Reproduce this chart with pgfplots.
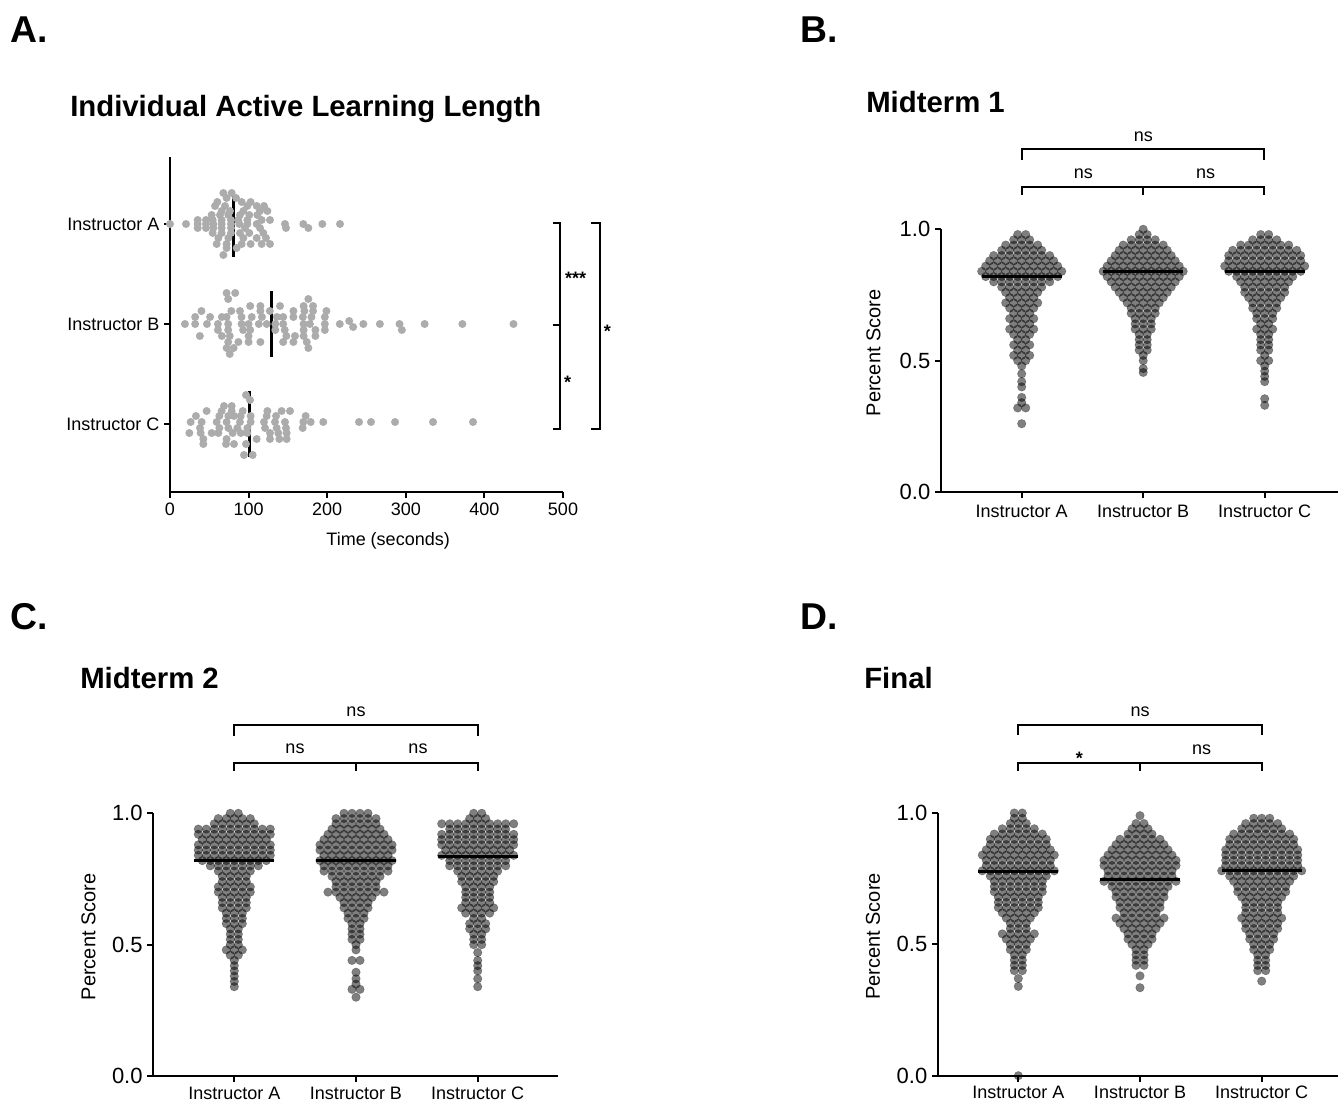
\documentclass[border=0pt]{standalone}
\usepackage{fontspec}
\setmainfont{Liberation Sans}
\usepackage{pgfplots}
\pgfplotsset{compat=1.18}

\definecolor{dotgray}{RGB}{172,172,172}
\newcommand\labf{\fontsize{13.5pt}{16pt}\selectfont}
\newcommand\ylabf{\fontsize{15pt}{18pt}\selectfont}
\newcommand\tickf{\fontsize{16.5pt}{19pt}\selectfont}
\newcommand\titlef{\bfseries\fontsize{22pt}{25pt}\selectfont}
\newcommand\letterf{\bfseries\fontsize{28pt}{30pt}\selectfont}

\pgfplotsset{
  panel/.style={scale only axis, axis lines=left,
    axis line style={-, line width=1.5pt},
    tick style={black, line width=1.5pt}, tick align=outside,
    major tick length=4.5pt, clip=false, ticklabel style={font=\labf},
    /pgf/number format/assume math mode=true},
  swarm/.style={only marks, mark=*, mark size=3.2pt, color=black,
    mark options={fill=black, fill opacity=0.5, draw=black, draw opacity=0.3, line width=0.4pt}},
  adot/.style={only marks, mark=*, mark size=3pt, color=dotgray,
    mark options={fill=dotgray, draw=dotgray, draw opacity=0}},
  meanline/.style={black, line width=2.25pt, no marks},
  vpanel/.style={panel, anchor=south west, width=#1, height=197.025pt,
    ymin=0, ymax=1, ytick={0,0.5,1}, yticklabels={0.0,0.5,1.0},
    yticklabel style={font=\tickf},
    xticklabels={Instructor A,Instructor B,Instructor C},
    ylabel={Percent Score}, ylabel style={font=\ylabf, anchor=center}},
}

\begin{document}
\begin{tikzpicture}
\path[use as bounding box] (0,0) rectangle (1003.5pt,-826.5pt);

% ---------------- A: active learning length ----------------
\begin{axis}[panel, at={(127.5pt,-369pt)}, anchor=south west,
  width=294.75pt, height=251.25pt,
  xmin=0, xmax=500, ymin=-68, ymax=267,
  xtick={0,100,...,500}, ytick={0,100,200},
  yticklabels={Instructor C,Instructor B,Instructor A},
  xlabel={Time (seconds)},
  xlabel style={font=\labf, at={(axis description cs:0.555,-0.146)}, anchor=center}]
% Instructor A (time, vertical offset px)
\addplot[adot, y filter/.expression={200-y}] coordinates {
(67.9,-31)(78.5,-31)(72,-26)(84,-26)
(60.2,-22)(91.2,-22)(102.6,-22)
(57.3,-18)(70,-18)(98.4,-18)(110.3,-18)(119.6,-18)
(65.7,-13)(76.3,-13)(93.3,-13)(114.5,-13)(123.9,-13)
(53,-9)(63.6,-9)(74.2,-9)(89,-9)(100.9,-9)(111.1,-9)
(35.2,-4)(45.8,-4)(54.3,-4)(65.7,-4)(77.6,-4)(86.9,-4)(98.4,-4)(116.6,-4)(127.2,-4)
(0,0)(20.4,0)(35.2,0)(45.8,0)(55.1,0)(65.7,0)(77.6,0)(88.2,0)(98.4,0)(110.3,0)(146.3,0)(169.6,0)(193.8,0)(216.3,0)
(35.2,4)(45.8,4)(55.1,4)(65.7,4)(77.6,4)(95.4,4)(114.5,4)(147.6,4)(176,4)
(54.3,9)(65.7,9)(77.6,9)(89,9)(100.9,9)(118.7,9)
(61.5,14)(74.2,14)(93.3,14)(110.3,14)(122.1,14)
(59.4,20)(72,20)(91.2,20)(102.6,20)(116.6,20)(127.2,20)
(72,24)(84.8,24)(67.9,31)
};
% Instructor B
\addplot[adot, y filter/.expression={100-y}] coordinates {
(72,-31)(83,-31)(74,-25)(176,-25)
(102,-18)(115,-18)(140,-18)(170,-18)(182,-18)
(40,-13)(78,-13)(89,-13)(115,-13)(127,-13)(157,-13)(171,-13)(182,-13)(199,-13)
(32,-7)(51,-7)(66,-7)(72,-7)(91,-7)(104,-7)(117,-7)(136,-7)(144,-7)(157,-7)(169,-7)(180,-7)(197,-7)
(19,0)(32,0)(47,0)(61,0)(74,0)(91,0)(100,0)(113,0)(123,0)(134,0)(144,0)(170,0)(178,0)(197,0)(216,0)(246,0)(267,0)(292,0)(324,0)(372,0)(437,0)
(228,-3)(233,3)(295,6)
(61,6)(74,6)(93,6)(102,6)(134,6)(146,6)(170,6)(185,6)(197,6)
(38,12)(66,12)(76,12)(100,12)(148,12)(159,12)(170,12)(185,12)
(74,18)(87,18)(100,18)(115,18)(144,18)(157,18)(174,18)
(72,24)(81,24)(176,24)(76,30)
};
% Instructor C
\addplot[adot, y filter/.expression={-y}] coordinates {
(96.7,-29)(101.8,-24)(68.7,-18)(78.5,-18)
(46.6,-13)(65.7,-13)(78.5,-13)(92.5,-13)(123.9,-13)(142,-13)(152.7,-13)
(33,-8)(62.8,-8)(74.2,-8)(81.4,-8)(90,-8)(102.6,-8)(123,-8)(134.9,-8)(172.6,-8)
(26.3,-2)(40.3,-2)(59.4,-2)(72,-2)(89,-2)(102.6,-2)(119.6,-2)(133.6,-2)(146.3,-2)(169.6,-2)(179,-2)(195,-2)(240.5,-2)(255.7,-2)(286.3,-2)(334.6,-2)(385.5,-2)
(38.2,4)(62.8,4)(74.2,4)(85.7,4)(98.4,4)(120.9,4)(135.7,4)(147.6,4)(168.8,4)
(24.6,9)(39,9)(53,9)(61.5,9)(79.7,9)(90,9)(98.4,9)(127.2,9)(137.8,9)(148.4,9)
(42.4,15)(72,15)(110.3,15)(127.2,15)(139.1,15)(148.4,15)
(42.4,20)(71.3,20)(81.4,20)(96.7,20)
(94.1,31)(105.2,31)
};
\addplot[meanline] coordinates {(81.4,167)(81.4,233)};
\addplot[meanline] coordinates {(129.3,67)(129.3,133)};
\addplot[meanline] coordinates {(101,-33)(101,33)};
\end{axis}

% ---------------- B: Midterm 1 ----------------
\begin{axis}[vpanel=297.75pt, at={(705.75pt,-369pt)},
  xmin=-80.7, xmax=316.3, xtick={0,121.5,243},
  xticklabel style={yshift=-2pt},
  ylabel style={at={(axis description cs:-0.17,0.53)}}]
\addplot[swarm] coordinates {
(-4,.98)(4,.98)
(-8,.96)(0,.96)(8,.96)
(-16,.94)(-8,.94)(0,.94)(8,.94)(16,.94)
(-20,.92)(-12,.92)(-4,.92)(4,.92)(12,.92)(20,.92)
(-28,.90)(-20,.90)(-12,.90)(-4,.90)(4,.90)(12,.90)(20,.90)(28,.90)
(-32,.88)(-24,.88)(-16,.88)(-8,.88)(0,.88)(8,.88)(16,.88)(24,.88)(32,.88)
(-36,.86)(-28,.86)(-20,.86)(-12,.86)(-4,.86)(4,.86)(12,.86)(20,.86)(28,.86)(36,.86)
(-40,.84)(-32,.84)(-24,.84)(-16,.84)(-8,.84)(0,.84)(8,.84)(16,.84)(24,.84)(32,.84)(40,.84)
(-36,.82)(-28,.82)(-20,.82)(-12,.82)(-4,.82)(4,.82)(12,.82)(20,.82)(28,.82)(36,.82)
(-28,.80)(-20,.80)(-12,.80)(-4,.80)(4,.80)(12,.80)(20,.80)(28,.80)
(-20,.78)(-12,.78)(-4,.78)(4,.78)(12,.78)(20,.78)
(-16,.76)(-8,.76)(0,.76)(8,.76)(16,.76)
(-12,.74)(-4,.74)(4,.74)(12,.74)
(-16,.72)(-8,.72)(0,.72)(8,.72)(16,.72)
(-12,.70)(-4,.70)(4,.70)(12,.70)
(-8,.68)(0,.68)(8,.68)
(-12,.66)(-4,.66)(4,.66)(12,.66)
(-8,.64)(0,.64)(8,.64)
(-12,.62)(-4,.62)(4,.62)(12,.62)
(-8,.60)(0,.60)(8,.60)
(-4,.58)(4,.58)
(-8,.56)(0,.56)(8,.56)
(-4,.54)(4,.54)
(-8,.52)(0,.52)(8,.52)
(-4,.50)(4,.50)
(0,.48)(0,.45)(0,.42)(0,.40)(0,.36)(0,.34)(-4,.32)(4,.32)(0,.26)
};
\addplot[swarm, x filter/.expression={x+121.5}] coordinates {
(0,1.0)
(-4,.98)(4,.98)
(-12,.96)(-4,.96)(4,.96)(12,.96)
(-20,.94)(-12,.94)(-4,.94)(4,.94)(12,.94)(20,.94)
(-24,.92)(-16,.92)(-8,.92)(0,.92)(8,.92)(16,.92)(24,.92)
(-28,.90)(-20,.90)(-12,.90)(-4,.90)(4,.90)(12,.90)(20,.90)(28,.90)
(-32,.88)(-24,.88)(-16,.88)(-8,.88)(0,.88)(8,.88)(16,.88)(24,.88)(32,.88)
(-36,.86)(-28,.86)(-20,.86)(-12,.86)(-4,.86)(4,.86)(12,.86)(20,.86)(28,.86)(36,.86)
(-40,.84)(-32,.84)(-24,.84)(-16,.84)(-8,.84)(0,.84)(8,.84)(16,.84)(24,.84)(32,.84)(40,.84)
(-36,.82)(-28,.82)(-20,.82)(-12,.82)(-4,.82)(4,.82)(12,.82)(20,.82)(28,.82)(36,.82)
(-32,.80)(-24,.80)(-16,.80)(-8,.80)(0,.80)(8,.80)(16,.80)(24,.80)(32,.80)
(-28,.78)(-20,.78)(-12,.78)(-4,.78)(4,.78)(12,.78)(20,.78)(28,.78)
(-24,.76)(-16,.76)(-8,.76)(0,.76)(8,.76)(16,.76)(24,.76)
(-20,.74)(-12,.74)(-4,.74)(4,.74)(12,.74)(20,.74)
(-16,.72)(-8,.72)(0,.72)(8,.72)(16,.72)
(-12,.70)(-4,.70)(4,.70)(12,.70)
(-12,.68)(-4,.68)(4,.68)(12,.68)
(-8,.66)(0,.66)(8,.66)
(-8,.64)(0,.64)(8,.64)
(-8,.62)(0,.62)(8,.62)
(-4,.60)(4,.60)
(-4,.58)(4,.58)
(-4,.56)(4,.56)
(-4,.54)(4,.54)
(0,.52)(0,.50)(0,.47)(0,.455)
};
\addplot[swarm, x filter/.expression={x+243}] coordinates {
(-4,.98)(4,.98)
(-12,.96)(-4,.96)(4,.96)(12,.96)
(-24,.94)(-16,.94)(-8,.94)(0,.94)(8,.94)(16,.94)(24,.94)
(-32,.92)(-24,.92)(-16,.92)(-8,.92)(0,.92)(8,.92)(16,.92)(24,.92)(32,.92)
(-36,.90)(-28,.90)(-20,.90)(-12,.90)(-4,.90)(4,.90)(12,.90)(20,.90)(28,.90)(36,.90)
(-36,.88)(-28,.88)(-20,.88)(-12,.88)(-4,.88)(4,.88)(12,.88)(20,.88)(28,.88)(36,.88)
(-40,.86)(-32,.86)(-24,.86)(-16,.86)(-8,.86)(0,.86)(8,.86)(16,.86)(24,.86)(32,.86)(40,.86)
(-36,.84)(-28,.84)(-20,.84)(-12,.84)(-4,.84)(4,.84)(12,.84)(20,.84)(28,.84)(36,.84)
(-28,.82)(-20,.82)(-12,.82)(-4,.82)(4,.82)(12,.82)(20,.82)(28,.82)
(-24,.80)(-16,.80)(-8,.80)(0,.80)(8,.80)(16,.80)(24,.80)
(-20,.78)(-12,.78)(-4,.78)(4,.78)(12,.78)(20,.78)
(-20,.76)(-12,.76)(-4,.76)(4,.76)(12,.76)(20,.76)
(-16,.74)(-8,.74)(0,.74)(8,.74)(16,.74)
(-12,.72)(-4,.72)(4,.72)(12,.72)
(-12,.70)(-4,.70)(4,.70)(12,.70)
(-8,.68)(0,.68)(8,.68)
(-8,.66)(0,.66)(8,.66)
(-4,.64)(4,.64)
(-8,.62)(0,.62)(8,.62)
(-4,.60)(4,.60)
(-4,.58)(4,.58)
(-4,.56)(4,.56)
(-4,.54)(4,.54)
(0,.52)
(-4,.50)(4,.50)
(0,.48)(0,.46)(0,.44)(0,.42)(0,.355)(0,.33)
};
\addplot[meanline] coordinates {(-40,.822)(40,.822)};
\addplot[meanline] coordinates {(81.5,.84)(161.5,.84)};
\addplot[meanline] coordinates {(203,.84)(283,.84)};
\end{axis}

% ---------------- C: Midterm 2 ----------------
\begin{axis}[vpanel=303.75pt, at={(114.975pt,-807pt)},
  xmin=-81, xmax=324, xtick={0,121.7,243.4},
  ylabel style={at={(axis description cs:-0.16,0.53)}}]
\addplot[swarm] coordinates {
(-4,1.0)(4,1.0)
(-16,.98)(-8,.98)(0,.98)(8,.98)(16,.98)
(-20,.96)(-12,.96)(-4,.96)(4,.96)(12,.96)(20,.96)
(-36,.94)(-28,.94)(-20,.94)(-12,.94)(-4,.94)(4,.94)(12,.94)(20,.94)(28,.94)(36,.94)
(-36,.92)(-28,.92)(-20,.92)(-12,.92)(-4,.92)(4,.92)(12,.92)(20,.92)(28,.92)(36,.92)
(-32,.90)(-24,.90)(-16,.90)(-8,.90)(0,.90)(8,.90)(16,.90)(24,.90)(32,.90)
(-36,.88)(-28,.88)(-20,.88)(-12,.88)(-4,.88)(4,.88)(12,.88)(20,.88)(28,.88)(36,.88)
(-36,.86)(-28,.86)(-20,.86)(-12,.86)(-4,.86)(4,.86)(12,.86)(20,.86)(28,.86)(36,.86)
(-36,.84)(-28,.84)(-20,.84)(-12,.84)(-4,.84)(4,.84)(12,.84)(20,.84)(28,.84)(36,.84)
(-32,.82)(-24,.82)(-16,.82)(-8,.82)(0,.82)(8,.82)(16,.82)(24,.82)(32,.82)
(-24,.80)(-16,.80)(-8,.80)(0,.80)(8,.80)(16,.80)(24,.80)
(-16,.78)(-8,.78)(0,.78)(8,.78)(16,.78)
(-12,.76)(-4,.76)(4,.76)(12,.76)
(-12,.74)(-4,.74)(4,.74)(12,.74)
(-16,.72)(-8,.72)(0,.72)(8,.72)(16,.72)
(-16,.70)(-8,.70)(0,.70)(8,.70)(16,.70)
(-12,.68)(-4,.68)(4,.68)(12,.68)
(-12,.66)(-4,.66)(4,.66)(12,.66)
(-12,.64)(-4,.64)(4,.64)(12,.64)
(-8,.62)(0,.62)(8,.62)
(-8,.60)(0,.60)(8,.60)
(-8,.58)(0,.58)(8,.58)
(-4,.56)(4,.56)
(-4,.54)(4,.54)
(-4,.52)(4,.52)
(-4,.50)(4,.50)
(-8,.48)(0,.48)(8,.48)
(-4,.46)(4,.46)
(0,.44)(0,.42)(0,.40)(0,.38)(0,.36)(0,.34)
};
\addplot[swarm, x filter/.expression={x+121.7}] coordinates {
(-12,1.0)(-4,1.0)(4,1.0)(12,1.0)
(-20,.98)(-12,.98)(-4,.98)(4,.98)(12,.98)(20,.98)
(-20,.96)(-12,.96)(-4,.96)(4,.96)(12,.96)(20,.96)
(-24,.94)(-16,.94)(-8,.94)(0,.94)(8,.94)(16,.94)(24,.94)
(-28,.92)(-20,.92)(-12,.92)(-4,.92)(4,.92)(12,.92)(20,.92)(28,.92)
(-32,.90)(-24,.90)(-16,.90)(-8,.90)(0,.90)(8,.90)(16,.90)(24,.90)(32,.90)
(-36,.88)(-28,.88)(-20,.88)(-12,.88)(-4,.88)(4,.88)(12,.88)(20,.88)(28,.88)(36,.88)
(-36,.86)(-28,.86)(-20,.86)(-12,.86)(-4,.86)(4,.86)(12,.86)(20,.86)(28,.86)(36,.86)
(-32,.84)(-24,.84)(-16,.84)(-8,.84)(0,.84)(8,.84)(16,.84)(24,.84)(32,.84)
(-36,.82)(-28,.82)(-20,.82)(-12,.82)(-4,.82)(4,.82)(12,.82)(20,.82)(28,.82)(36,.82)
(-32,.80)(-24,.80)(-16,.80)(-8,.80)(0,.80)(8,.80)(16,.80)(24,.80)(32,.80)
(-32,.78)(-24,.78)(-16,.78)(-8,.78)(0,.78)(8,.78)(16,.78)(24,.78)(32,.78)
(-24,.76)(-16,.76)(-8,.76)(0,.76)(8,.76)(16,.76)(24,.76)
(-20,.74)(-12,.74)(-4,.74)(4,.74)(12,.74)(20,.74)
(-20,.72)(-12,.72)(-4,.72)(4,.72)(12,.72)(20,.72)
(-28,.70)(-20,.70)(-12,.70)(-4,.70)(4,.70)(12,.70)(20,.70)(28,.70)
(-16,.68)(-8,.68)(0,.68)(8,.68)(16,.68)
(-12,.66)(-4,.66)(4,.66)(12,.66)
(-12,.64)(-4,.64)(4,.64)(12,.64)
(-8,.62)(0,.62)(8,.62)
(-8,.60)(0,.60)(8,.60)
(-4,.58)(4,.58)
(-4,.56)(4,.56)
(-4,.54)(4,.54)
(-4,.52)(4,.52)
(0,.50)(0,.48)(-4,.44)(4,.44)(0,.395)(0,.37)(0,.35)(-4,.33)(4,.33)(0,.30)
};
\addplot[swarm, x filter/.expression={x+243.4}] coordinates {
(-4,1.0)(4,1.0)
(-8,.98)(0,.98)(8,.98)
(-36,.96)(-28,.96)(-20,.96)(-12,.96)(-4,.96)(4,.96)(12,.96)(20,.96)(28,.96)(36,.96)
(-28,.94)(-20,.94)(-12,.94)(-4,.94)(4,.94)(12,.94)(20,.94)(28,.94)
(-36,.92)(-28,.92)(-20,.92)(-12,.92)(-4,.92)(4,.92)(12,.92)(20,.92)(28,.92)(36,.92)
(-36,.90)(-28,.90)(-20,.90)(-12,.90)(-4,.90)(4,.90)(12,.90)(20,.90)(28,.90)(36,.90)
(-36,.88)(-28,.88)(-20,.88)(-12,.88)(-4,.88)(4,.88)(12,.88)(20,.88)(28,.88)(36,.88)
(-32,.86)(-24,.86)(-16,.86)(-8,.86)(0,.86)(8,.86)(16,.86)(24,.86)(32,.86)
(-36,.84)(-28,.84)(-20,.84)(-12,.84)(-4,.84)(4,.84)(12,.84)(20,.84)(28,.84)(36,.84)
(-28,.82)(-20,.82)(-12,.82)(-4,.82)(4,.82)(12,.82)(20,.82)(28,.82)
(-28,.80)(-20,.80)(-12,.80)(-4,.80)(4,.80)(12,.80)(20,.80)(28,.80)
(-20,.78)(-12,.78)(-4,.78)(4,.78)(12,.78)(20,.78)
(-16,.76)(-8,.76)(0,.76)(8,.76)(16,.76)
(-16,.74)(-8,.74)(0,.74)(8,.74)(16,.74)
(-12,.72)(-4,.72)(4,.72)(12,.72)
(-12,.70)(-4,.70)(4,.70)(12,.70)
(-12,.68)(-4,.68)(4,.68)(12,.68)
(-12,.66)(-4,.66)(4,.66)(12,.66)
(-16,.64)(-8,.64)(0,.64)(8,.64)(16,.64)
(-12,.62)(-4,.62)(4,.62)(12,.62)
(-4,.60)(4,.60)
(-8,.58)(0,.58)(8,.58)
(-8,.56)(0,.56)(8,.56)
(-4,.54)(4,.54)
(-4,.52)(4,.52)
(-4,.50)(4,.50)
(0,.47)(0,.44)(0,.42)(0,.40)(0,.37)(0,.34)
};
\addplot[meanline] coordinates {(-40,.822)(40,.822)};
\addplot[meanline] coordinates {(81.7,.822)(161.7,.822)};
\addplot[meanline] coordinates {(203.4,.837)(283.4,.837)};
\end{axis}

% ---------------- D: Final ----------------
\begin{axis}[vpanel=300pt, at={(703.5pt,-806.775pt)},
  xmin=-80.3, xmax=319.7, xtick={0,121.7,243.4},
  ylabel style={at={(axis description cs:-0.1625,0.53)}}]
\addplot[swarm] coordinates {
(-4,1.0)(4,1.0)
(-4,.98)(4,.98)
(-8,.96)(0,.96)(8,.96)
(-16,.94)(-8,.94)(0,.94)(8,.94)(16,.94)
(-24,.92)(-16,.92)(-8,.92)(0,.92)(8,.92)(16,.92)(24,.92)
(-28,.90)(-20,.90)(-12,.90)(-4,.90)(4,.90)(12,.90)(20,.90)(28,.90)
(-28,.88)(-20,.88)(-12,.88)(-4,.88)(4,.88)(12,.88)(20,.88)(28,.88)
(-32,.86)(-24,.86)(-16,.86)(-8,.86)(0,.86)(8,.86)(16,.86)(24,.86)(32,.86)
(-36,.84)(-28,.84)(-20,.84)(-12,.84)(-4,.84)(4,.84)(12,.84)(20,.84)(28,.84)(36,.84)
(-32,.82)(-24,.82)(-16,.82)(-8,.82)(0,.82)(8,.82)(16,.82)(24,.82)(32,.82)
(-32,.80)(-24,.80)(-16,.80)(-8,.80)(0,.80)(8,.80)(16,.80)(24,.80)(32,.80)
(-36,.78)(-28,.78)(-20,.78)(-12,.78)(-4,.78)(4,.78)(12,.78)(20,.78)(28,.78)(36,.78)
(-28,.76)(-20,.76)(-12,.76)(-4,.76)(4,.76)(12,.76)(20,.76)(28,.76)
(-24,.74)(-16,.74)(-8,.74)(0,.74)(8,.74)(16,.74)(24,.74)
(-24,.72)(-16,.72)(-8,.72)(0,.72)(8,.72)(16,.72)(24,.72)
(-24,.70)(-16,.70)(-8,.70)(0,.70)(8,.70)(16,.70)(24,.70)
(-20,.68)(-12,.68)(-4,.68)(4,.68)(12,.68)(20,.68)
(-20,.66)(-12,.66)(-4,.66)(4,.66)(12,.66)(20,.66)
(-20,.64)(-12,.64)(-4,.64)(4,.64)(12,.64)(20,.64)
(-16,.62)(-8,.62)(0,.62)(8,.62)(16,.62)
(-12,.60)(-4,.60)(4,.60)(12,.60)
(-8,.58)(0,.58)(8,.58)
(-8,.56)(0,.56)(8,.56)
(-16,.54)(-8,.54)(0,.54)(8,.54)(16,.54)
(-12,.52)(-4,.52)(4,.52)(12,.52)
(-8,.50)(0,.50)(8,.50)
(-8,.48)(0,.48)(8,.48)
(-4,.46)(4,.46)
(-4,.44)(4,.44)
(-4,.42)(4,.42)
(-4,.40)(4,.40)
(0,.37)(0,.34)(0,0)
};
\addplot[swarm, x filter/.expression={x+121.7}] coordinates {
(0,.99)
(-4,.96)(4,.96)
(-8,.94)(0,.94)(8,.94)
(-12,.92)(-4,.92)(4,.92)(12,.92)
(-20,.90)(-12,.90)(-4,.90)(4,.90)(12,.90)(20,.90)
(-24,.88)(-16,.88)(-8,.88)(0,.88)(8,.88)(16,.88)(24,.88)
(-28,.86)(-20,.86)(-12,.86)(-4,.86)(4,.86)(12,.86)(20,.86)(28,.86)
(-32,.84)(-24,.84)(-16,.84)(-8,.84)(0,.84)(8,.84)(16,.84)(24,.84)(32,.84)
(-36,.82)(-28,.82)(-20,.82)(-12,.82)(-4,.82)(4,.82)(12,.82)(20,.82)(28,.82)(36,.82)
(-36,.80)(-28,.80)(-20,.80)(-12,.80)(-4,.80)(4,.80)(12,.80)(20,.80)(28,.80)(36,.80)
(-32,.78)(-24,.78)(-16,.78)(-8,.78)(0,.78)(8,.78)(16,.78)(24,.78)(32,.78)
(-32,.76)(-24,.76)(-16,.76)(-8,.76)(0,.76)(8,.76)(16,.76)(24,.76)(32,.76)
(-36,.74)(-28,.74)(-20,.74)(-12,.74)(-4,.74)(4,.74)(12,.74)(20,.74)(28,.74)(36,.74)
(-28,.72)(-20,.72)(-12,.72)(-4,.72)(4,.72)(12,.72)(20,.72)(28,.72)
(-24,.70)(-16,.70)(-8,.70)(0,.70)(8,.70)(16,.70)(24,.70)
(-24,.68)(-16,.68)(-8,.68)(0,.68)(8,.68)(16,.68)(24,.68)
(-20,.66)(-12,.66)(-4,.66)(4,.66)(12,.66)(20,.66)
(-20,.64)(-12,.64)(-4,.64)(4,.64)(12,.64)(20,.64)
(-16,.62)(-8,.62)(0,.62)(8,.62)(16,.62)
(-24,.60)(-16,.60)(-8,.60)(0,.60)(8,.60)(16,.60)(24,.60)
(-20,.58)(-12,.58)(-4,.58)(4,.58)(12,.58)(20,.58)
(-16,.56)(-8,.56)(0,.56)(8,.56)(16,.56)
(-12,.54)(-4,.54)(4,.54)(12,.54)
(-12,.52)(-4,.52)(4,.52)(12,.52)
(-8,.50)(0,.50)(8,.50)
(-4,.48)(4,.48)
(-4,.46)(4,.46)
(-4,.44)(4,.44)
(-4,.42)(4,.42)
(0,.38)(0,.335)
};
\addplot[swarm, x filter/.expression={x+243.4}] coordinates {
(-8,.98)(0,.98)(8,.98)
(-16,.96)(-8,.96)(0,.96)(8,.96)(16,.96)
(-20,.94)(-12,.94)(-4,.94)(4,.94)(12,.94)(20,.94)
(-28,.92)(-20,.92)(-12,.92)(-4,.92)(4,.92)(12,.92)(20,.92)(28,.92)
(-32,.90)(-24,.90)(-16,.90)(-8,.90)(0,.90)(8,.90)(16,.90)(24,.90)(32,.90)
(-32,.88)(-24,.88)(-16,.88)(-8,.88)(0,.88)(8,.88)(16,.88)(24,.88)(32,.88)
(-36,.86)(-28,.86)(-20,.86)(-12,.86)(-4,.86)(4,.86)(12,.86)(20,.86)(28,.86)(36,.86)
(-36,.84)(-28,.84)(-20,.84)(-12,.84)(-4,.84)(4,.84)(12,.84)(20,.84)(28,.84)(36,.84)
(-36,.82)(-28,.82)(-20,.82)(-12,.82)(-4,.82)(4,.82)(12,.82)(20,.82)(28,.82)(36,.82)
(-36,.80)(-28,.80)(-20,.80)(-12,.80)(-4,.80)(4,.80)(12,.80)(20,.80)(28,.80)(36,.80)
(-40,.78)(-32,.78)(-24,.78)(-16,.78)(-8,.78)(0,.78)(8,.78)(16,.78)(24,.78)(32,.78)(40,.78)
(-32,.76)(-24,.76)(-16,.76)(-8,.76)(0,.76)(8,.76)(16,.76)(24,.76)(32,.76)
(-28,.74)(-20,.74)(-12,.74)(-4,.74)(4,.74)(12,.74)(20,.74)(28,.74)
(-24,.72)(-16,.72)(-8,.72)(0,.72)(8,.72)(16,.72)(24,.72)
(-24,.70)(-16,.70)(-8,.70)(0,.70)(8,.70)(16,.70)(24,.70)
(-20,.68)(-12,.68)(-4,.68)(4,.68)(12,.68)(20,.68)
(-16,.66)(-8,.66)(0,.66)(8,.66)(16,.66)
(-16,.64)(-8,.64)(0,.64)(8,.64)(16,.64)
(-16,.62)(-8,.62)(0,.62)(8,.62)(16,.62)
(-20,.60)(-12,.60)(-4,.60)(4,.60)(12,.60)(20,.60)
(-16,.58)(-8,.58)(0,.58)(8,.58)(16,.58)
(-16,.56)(-8,.56)(0,.56)(8,.56)(16,.56)
(-12,.54)(-4,.54)(4,.54)(12,.54)
(-12,.52)(-4,.52)(4,.52)(12,.52)
(-8,.50)(0,.50)(8,.50)
(-8,.48)(0,.48)(8,.48)
(-4,.46)(4,.46)
(-4,.44)(4,.44)
(-4,.42)(4,.42)
(-4,.40)(4,.40)
(0,.36)
};
\addplot[meanline] coordinates {(-40,.779)(40,.779)};
\addplot[meanline] coordinates {(81.7,.745)(161.7,.745)};
\addplot[meanline] coordinates {(203.4,.783)(283.4,.783)};
\end{axis}

% ---------------- titles, letters, significance brackets ----------------
\begin{scope}[x=0.75pt, y=-0.75pt]
\node[anchor=base west, inner sep=0, font=\letterf] at (10,43) {A.};
\node[anchor=base west, inner sep=0, font=\letterf] at (800,43) {B.};
\node[anchor=base west, inner sep=0, font=\letterf] at (10,629) {C.};
\node[anchor=base west, inner sep=0, font=\letterf] at (800,629) {D.};
\node[anchor=base west, inner sep=0, font=\titlef] at (70,117) {Individual Active Learning Length};
\node[anchor=base west, inner sep=0, font=\titlef] at (866,113) {Midterm 1};
\node[anchor=base west, inner sep=0, font=\titlef] at (80,688) {Midterm 2};
\node[anchor=base west, inner sep=0, font=\titlef] at (864,688) {Final};

\begin{scope}[line width=1.5pt]
% panel A
\draw (552.7,222.7) -- (560,222.7) -- (560,429.3) -- (552.7,429.3);
\draw (552.7,325) -- (560,325);
\draw (591,222.7) -- (600,222.7) -- (600,429.3) -- (591,429.3);
% panel B
\draw (1021.7,160) -- (1021.7,149.3) -- (1264.3,149.3) -- (1264.3,160);
\draw (1021.7,195) -- (1021.7,186.7) -- (1264.3,186.7) -- (1264.3,195);
\draw (1143.2,186.7) -- (1143.2,195);
% panel C
\draw (234.3,736) -- (234.3,725) -- (477.7,725) -- (477.7,736);
\draw (234.3,771) -- (234.3,763) -- (477.7,763) -- (477.7,771);
\draw (356,763) -- (356,771);
% panel D
\draw (1018.3,735) -- (1018.3,725) -- (1261.7,725) -- (1261.7,735);
\draw (1018.3,771) -- (1018.3,763) -- (1261.7,763) -- (1261.7,771);
\draw (1140,763) -- (1140,771);
\end{scope}

\node[anchor=base, inner sep=0, font=\bfseries\labf] at (575.7,284.5) {***};
\node[anchor=base, inner sep=0, font=\bfseries\labf] at (567.7,388) {*};
\node[anchor=base, inner sep=0, font=\bfseries\labf] at (607.3,337) {*};
\node[anchor=base, inner sep=0, font=\bfseries\labf] at (1079.3,764.5) {*};
\node[font=\labf] at (1143.3,136.7) {ns};
\node[font=\labf] at (1083.3,173.3) {ns};
\node[font=\labf] at (1205.7,173.3) {ns};
\node[font=\labf] at (356,712) {ns};
\node[font=\labf] at (295,749) {ns};
\node[font=\labf] at (418,749) {ns};
\node[font=\labf] at (1140,712) {ns};
\node[font=\labf] at (1201.7,750) {ns};
\end{scope}
\end{tikzpicture}
\end{document}
